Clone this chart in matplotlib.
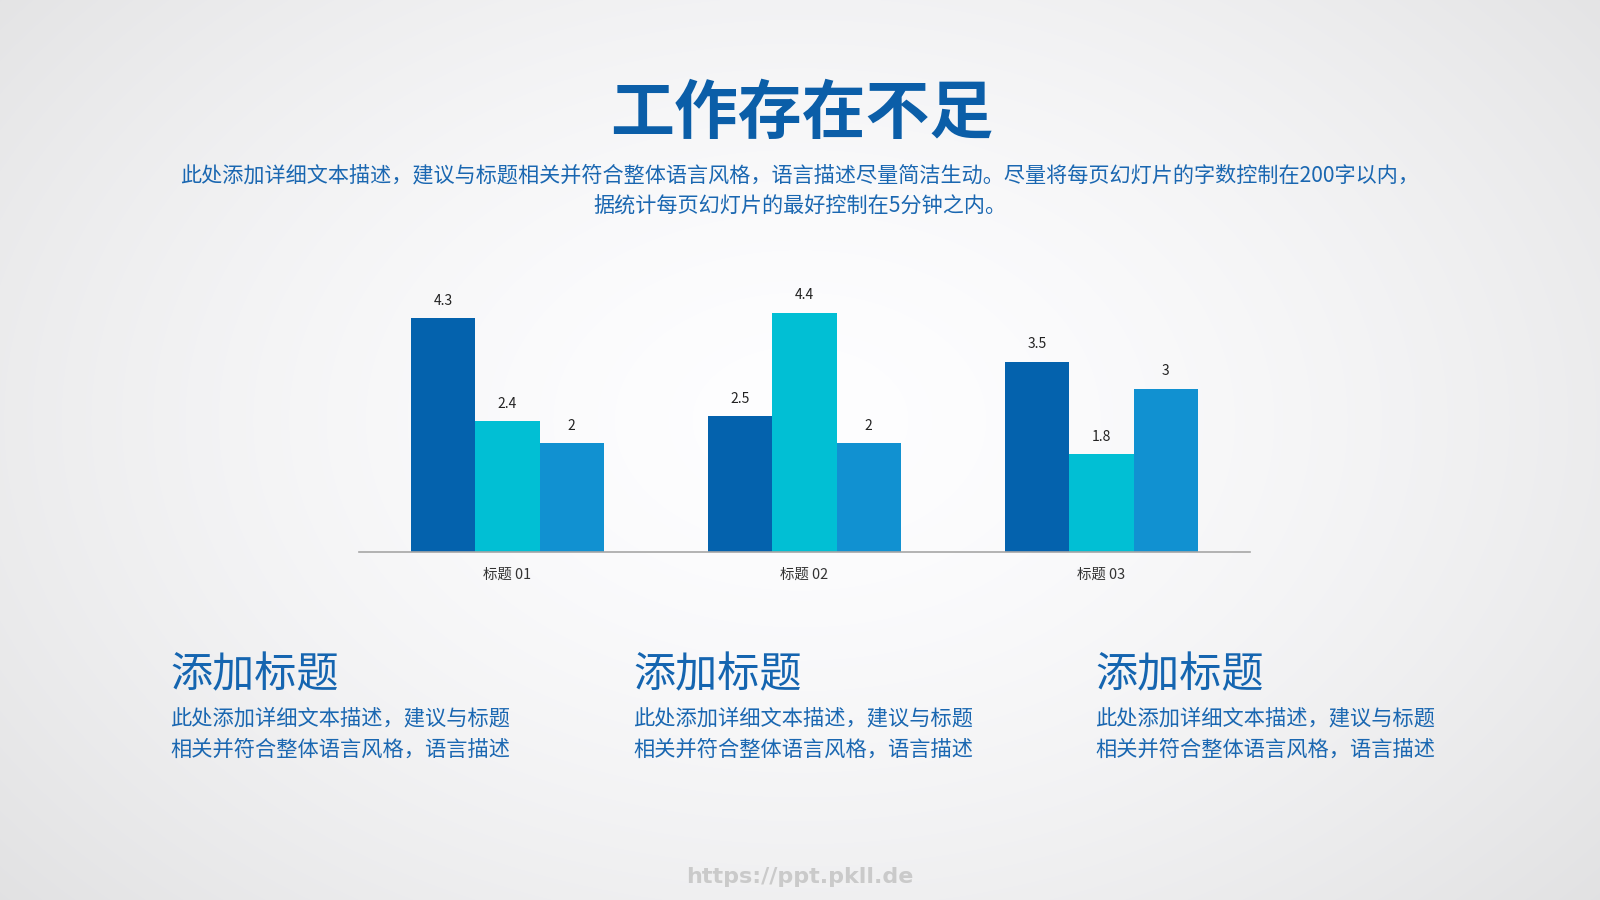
import numpy as np
import matplotlib
matplotlib.use('Agg')
import matplotlib.pyplot as plt

plt.rcParams['font.family'] = ['Noto Sans CJK SC', 'DejaVu Sans']

# Data
categories = ['标题 01', '标题 02', '标题 03']
series_a = [4.3, 2.5, 3.5]
series_b = [2.4, 4.4, 1.8]
series_c = [2, 2, 3]

title = '工作存在不足'
subtitle = ('此处添加详细文本描述，建议与标题相关并符合整体语言风格，语言描述尽量简洁生动。尽量将每页幻灯片的字数控制在200字以内，\n'
            '据统计每页幻灯片的最好控制在5分钟之内。')
block_titles = ['添加标题', '添加标题', '添加标题']
block_text = '此处添加详细文本描述，建议与标题\n相关并符合整体语言风格，语言描述'
watermark = 'https://ppt.pkll.de'

W, H = 1600, 900
col_dark = '#0462ad'
col_cyan = '#01bfd4'
col_mid = '#1191d1'
col_text = '#1a67b1'

fig = plt.figure(figsize=(16, 9), dpi=100)

# Background radial gradient
bg = fig.add_axes([0, 0, 1, 1], zorder=-10)
yy, xx = np.mgrid[0:H, 0:W]
r = np.sqrt(((xx - 800) / 900.0) ** 2 + ((yy - 420) / 620.0) ** 2)
shade = 1.0 - 0.085 * np.clip(r, 0, 1.4) ** 1.6
bg.imshow(np.dstack([shade * 0.995, shade * 0.995, shade * 1.0]), extent=[0, W, H, 0], aspect='auto')
bg.axis('off')


def px(x, y):
    return x / W, 1 - y / H


# Title and subtitle
fig.text(*px(802, 114), title, ha='center', va='center', fontsize=46,
         fontweight='bold', color='#0b5ea8')
fig.text(*px(800, 191), subtitle, ha='center', va='center', fontsize=15.2,
         color=col_text, linespacing=1.52)

# Chart
ax = fig.add_axes([359 / W, (H - 552) / H, 891 / W, 272 / H])
ax.patch.set_alpha(0)
x = np.arange(len(categories))
bw = 0.2165
for offset, vals, col in [(-bw, series_a, col_dark), (0, series_b, col_cyan), (bw, series_c, col_mid)]:
    b = ax.bar(x + offset, vals, width=bw, color=col, linewidth=0)
    ax.bar_label(b, labels=[f'{v:g}' for v in vals], padding=7.5, fontsize=10, color='#222222')
ax.set_xlim(-0.5, 2.5)
ax.set_ylim(0, 5)
ax.set_yticks([])
ax.set_xticks(x)
ax.set_xticklabels(categories, fontsize=10.4, color='#333333')
ax.tick_params(axis='x', length=0, pad=11.5)
for s in ['top', 'right', 'left']:
    ax.spines[s].set_visible(False)
ax.spines['bottom'].set_color('#a6a6a6')
ax.spines['bottom'].set_linewidth(1.2)

# Bottom blocks
for i, bx in enumerate([170, 633, 1095]):
    fig.text(*px(bx, 675), block_titles[i], ha='left', va='center', fontsize=30.3,
             color='#1565b0')
    fig.text(*px(bx, 734), block_text, ha='left', va='center', fontsize=15.3,
             color=col_text, linespacing=1.55)

# Watermark
fig.text(*px(800, 877), watermark, ha='center', va='center', fontsize=16,
         fontweight='bold', color='#cacaca', family='DejaVu Sans')

fig.savefig('out.png', dpi=100)
